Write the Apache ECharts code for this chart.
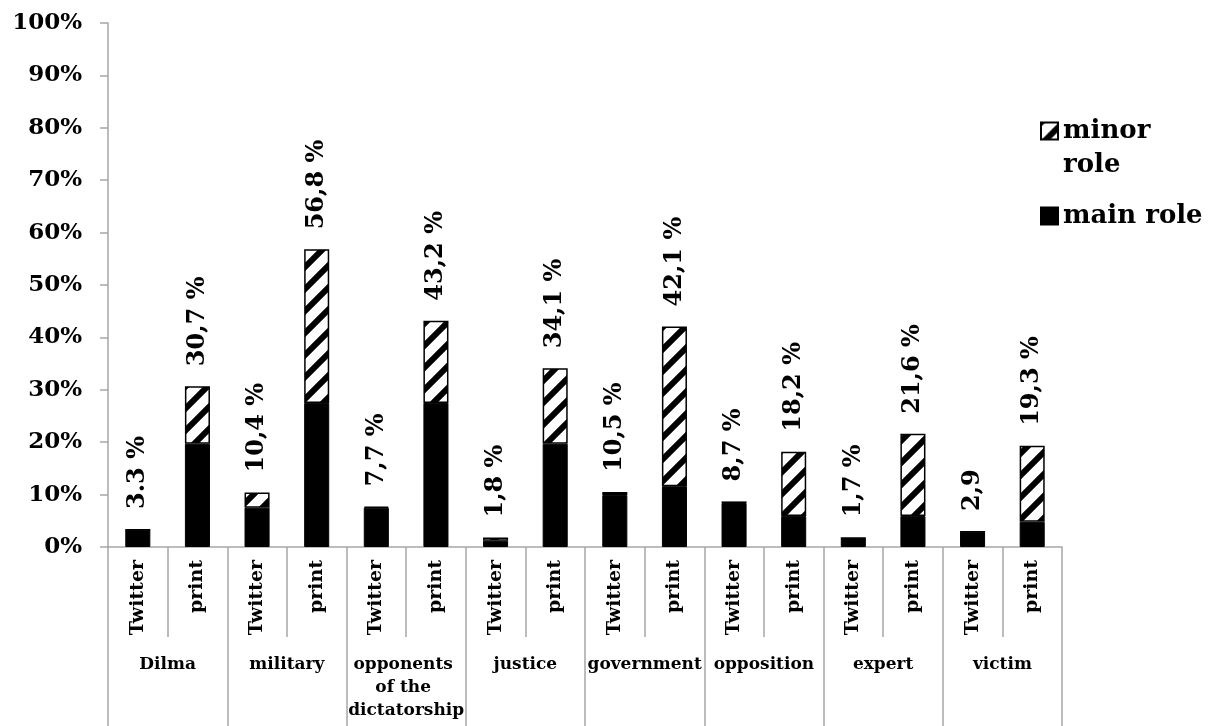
<!DOCTYPE html>
<html>
<head>
<meta charset="utf-8">
<script src="https://cdn.jsdelivr.net/npm/echarts@6/dist/echarts.min.js"></script>
<style>html,body{margin:0;padding:0;background:#fff;overflow:hidden;}#c{width:1210px;height:726px;}</style>
</head>
<body>
<div id="c"></div>
<script>
const subCategories = ['Twitter','print','Twitter','print','Twitter','print','Twitter','print','Twitter','print','Twitter','print','Twitter','print','Twitter','print'];
const groups = ['Dilma','military','opponents of the dictatorship','justice','government','opposition','expert','victim'];
const mainRole  = [3.3, 19.7, 7.5, 27.5, 7.5, 27.5, 1.2, 19.7, 9.9, 11.6, 8.4, 5.9, 1.7, 5.9, 2.9, 4.8];
const minorRole = [0, 11.0, 2.9, 29.3, 0.2, 15.7, 0.6, 14.4, 0.6, 30.5, 0.3, 12.3, 0, 15.7, 0, 14.5];
const totalLabels = ['3.3 %','30,7 %','10,4 %','56,8 %','7,7 %','43,2 %','1,8 %','34,1 %','10,5 %','42,1 %','8,7 %','18,2 %','1,7 %','21,6 %','2,9','19,3 %'];
const yTicks = [0,10,20,30,40,50,60,70,80,90,100];

const FONT = "'DejaVu Serif', serif";
const GRAY = '#a6a6a6';

// diagonal hatch pattern
const P = 22;
const pc = document.createElement('canvas');
pc.width = P; pc.height = P;
const g = pc.getContext('2d');
g.fillStyle = '#fff'; g.fillRect(0,0,P,P);
g.strokeStyle = '#000'; g.lineWidth = 6;
g.beginPath();
g.moveTo(-5,P+5); g.lineTo(P+5,-5);
g.moveTo(-6,6); g.lineTo(6,-6);
g.moveTo(P-6,P+6); g.lineTo(P+6,P-6);
g.stroke();

const chart = echarts.init(document.getElementById('c'), null, {renderer:'canvas', width: 1210, height: 726});
chart.setOption({
  animation: false,
  backgroundColor: '#fff',
  grid: {left: 108, right: 148, top: 23, bottom: 179, containLabel: false},
  legend: {
    orient: 'vertical', left: 1040, top: 80, padding: 0, itemWidth: 17, itemHeight: 17, itemGap: 17,
    icon: 'rect',
    textStyle: {fontFamily: FONT, fontWeight: 'bold', fontSize: 26, color: '#000', lineHeight: 34},
    formatter: name => name === 'minor role' ? '\nminor\nrole' : name,
    data: ['minor role', 'main role']
  },
  xAxis: [
    {
      type: 'category', position: 'bottom', data: subCategories,
      axisLine: {show: true, lineStyle: {color: GRAY, width: 1.5}},
      axisTick: {show: true, length: 90, alignWithLabel: false, lineStyle: {color: GRAY, width: 1.5}},
      axisLabel: {interval: 0, rotate: 90, margin: 13, fontFamily: FONT, fontWeight: 'bold', fontSize: 19, color: '#000'}
    },
    {
      type: 'category', position: 'bottom', data: groups,
      axisLine: {show: false},
      axisTick: {show: true, length: 180, alignWithLabel: false, lineStyle: {color: GRAY, width: 1.5}},
      axisLabel: {interval: 0, margin: 106, fontFamily: FONT, fontWeight: 'bold', fontSize: 17, color: '#000', width: 119, overflow: 'break', lineHeight: 23, align: 'center'}
    }
  ],
  yAxis: {
    type: 'value', min: yTicks[0], max: yTicks[yTicks.length-1], interval: 10,
    axisLine: {show: true, lineStyle: {color: GRAY, width: 1.5}},
    axisTick: {show: true, length: 8, lineStyle: {color: GRAY, width: 1.5}},
    splitLine: {show: false},
    axisLabel: {formatter: '{value}%', margin: 26, fontFamily: FONT, fontWeight: 'bold', fontSize: 23, color: '#000'}
  },
  series: [
    {
      name: 'main role', type: 'bar', stack: 'roles', xAxisIndex: 0, data: mainRole,
      barCategoryGap: '58%',
      itemStyle: {color: '#000', borderColor: '#000', borderWidth: 1}
    },
    {
      name: 'minor role', type: 'bar', stack: 'roles', xAxisIndex: 0, data: minorRole,
      barCategoryGap: '58%',
      itemStyle: {color: {image: pc, repeat: 'repeat'}, borderColor: '#000', borderWidth: 1.5},
      label: {
        show: true, position: 'top', rotate: 90, align: 'left', verticalAlign: 'middle', distance: 20,
        fontFamily: FONT, fontWeight: 'bold', fontSize: 24, color: '#000',
        formatter: p => totalLabels[p.dataIndex]
      }
    }
  ]
});
</script>
</body>
</html>
